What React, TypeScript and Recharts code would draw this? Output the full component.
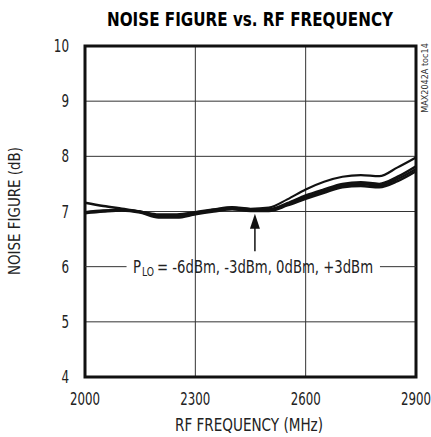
import React from "react";
import { LineChart, Line, XAxis, YAxis, CartesianGrid, ReferenceLine, ReferenceArea } from "recharts";

const freq = [2000, 2050, 2100, 2150, 2200, 2250, 2300, 2350, 2400, 2450, 2500, 2550, 2600, 2650, 2700, 2750, 2800, 2850, 2900];
const nfM6 = [7.16, 7.1, 7.05, 7.0, 6.93, 6.92, 6.97, 7.03, 7.07, 7.04, 7.04, 7.15, 7.29, 7.4, 7.5, 7.53, 7.5, 7.63, 7.82];
const nfM3 = [6.98, 7.01, 7.03, 6.99, 6.91, 6.91, 6.96, 7.02, 7.05, 7.02, 7.03, 7.13, 7.26, 7.37, 7.47, 7.5, 7.47, 7.59, 7.77];
const nf0 = [6.97, 7.0, 7.02, 6.98, 6.89, 6.89, 6.95, 7.0, 7.04, 7.01, 7.01, 7.11, 7.23, 7.34, 7.44, 7.46, 7.44, 7.55, 7.73];
const nfP3 = [6.99, 7.02, 7.03, 7.0, 6.95, 6.95, 6.99, 7.04, 7.08, 7.05, 7.07, 7.22, 7.4, 7.54, 7.63, 7.66, 7.64, 7.8, 7.98];

const xTicks = [2000, 2300, 2600, 2900];
const yTicks = [4, 5, 6, 7, 8, 9, 10];
const gridY = [5, 7, 8, 9];
const gridX = [2300, 2600];

const title = "NOISE FIGURE vs. RF FREQUENCY";
const xLabel = "RF FREQUENCY (MHz)";
const yLabel = "NOISE FIGURE (dB)";
const sideNote = "MAX2042A toc14";
const annoP = "P";
const annoSub = "LO";
const annotation = "= -6dBm, -3dBm, 0dBm, +3dBm";

const data = freq.map((f, i) => ({ f, a: nfM6[i], b: nfM3[i], c: nf0[i], d: nfP3[i] }));

const FONT = "'Liberation Sans Narrow', 'Arial Narrow', 'DejaVu Sans Condensed', 'Liberation Sans', sans-serif";

const XTick = (props: any) => {
  const { x, y, payload } = props;
  const s = String(payload.value);
  return (
    <text x={x} y={y + 20} textAnchor="middle" fontFamily={FONT} fontSize={17} fill="#222" textLength={s.length * 7.5} lengthAdjust="spacingAndGlyphs">
      {s}
    </text>
  );
};
const YTick = (props: any) => {
  const { x, y, payload } = props;
  const s = String(payload.value);
  return (
    <text x={x - 8} y={y + 6} textAnchor="end" fontFamily={FONT} fontSize={17} fill="#222" textLength={s.length * 7.6} lengthAdjust="spacingAndGlyphs">
      {s}
    </text>
  );
};

const Arrow = (props: any) => {
  const { x1, y1, y2 } = props;
  const top = Math.min(y1, y2);
  const bot = Math.max(y1, y2);
  return (
    <g>
      <line x1={x1} y1={bot} x2={x1} y2={top + 14} stroke="#111" strokeWidth={1.5} />
      <polygon points={`${x1},${top} ${x1 - 5},${top + 15} ${x1 + 5},${top + 15}`} fill="#111" />
    </g>
  );
};

const AnnoLabel = (props: any) => {
  const { viewBox } = props;
  const cx = viewBox.x + (viewBox.width || 0) / 2;
  const cy = viewBox.y;
  const start = cx - 120;
  return (
    <g>
      <text x={start} y={cy + 6} fontFamily={FONT} fontSize={17} fill="#222" textLength={8} lengthAdjust="spacingAndGlyphs">
        {annoP}
      </text>
      <text x={start + 9} y={cy + 9} fontFamily={FONT} fontSize={12} fill="#222" textLength={12} lengthAdjust="spacingAndGlyphs">
        {annoSub}
      </text>
      <text x={start + 24} y={cy + 6} fontFamily={FONT} fontSize={17} fill="#222" textLength={216} lengthAdjust="spacingAndGlyphs">
        {annotation}
      </text>
    </g>
  );
};

export default function App() {
  return (
    <div style={{ position: "absolute", left: 0, top: 0, width: 431, height: 437, background: "#fff" }}>
      <LineChart width={431} height={437} data={data} margin={{ top: 46, right: 15, bottom: 30, left: 0 }}>
        <CartesianGrid horizontalValues={gridY} verticalValues={gridX} stroke="#333" strokeWidth={1} />
        <XAxis dataKey="f" type="number" domain={[2000, 2900]} ticks={xTicks} height={30} axisLine={false} tickLine={false} tick={<XTick />} interval={0} />
        <YAxis type="number" domain={[4, 10]} ticks={yTicks} width={85} axisLine={false} tickLine={false} tick={<YTick />} interval={0} />
        <ReferenceLine segment={[{ x: 2000, y: 6 }, { x: 2113, y: 6 }]} stroke="#333" strokeWidth={1} />
        <ReferenceLine segment={[{ x: 2802, y: 6 }, { x: 2900, y: 6 }]} stroke="#333" strokeWidth={1} />
        <ReferenceLine segment={[{ x: 2457, y: 6 }, { x: 2457, y: 6 }]} stroke="none" label={<AnnoLabel />} />
        <ReferenceLine segment={[{ x: 2462, y: 6.28 }, { x: 2462, y: 6.96 }]} shape={<Arrow />} />
        <Line type="monotone" dataKey="d" stroke="#111" strokeWidth={2.2} dot={false} isAnimationActive={false} />
        <Line type="monotone" dataKey="a" stroke="#111" strokeWidth={2.5} dot={false} isAnimationActive={false} />
        <Line type="monotone" dataKey="b" stroke="#111" strokeWidth={2.5} dot={false} isAnimationActive={false} />
        <Line type="monotone" dataKey="c" stroke="#111" strokeWidth={2.5} dot={false} isAnimationActive={false} />
        <ReferenceArea x1={2000} x2={2900} y1={4} y2={10} fill="none" stroke="#111" strokeWidth={3} ifOverflow="visible" />
      </LineChart>
      <svg width={431} height={437} style={{ position: "absolute", left: 0, top: 0, pointerEvents: "none" }}>
        <text x={250} y={26} textAnchor="middle" fontFamily="'DejaVu Sans Condensed', 'Liberation Sans Narrow', sans-serif" fontWeight="bold" fontSize={20} fill="#000" textLength={286} lengthAdjust="spacingAndGlyphs">
          {title}
        </text>
        <text x={249} y={431} textAnchor="middle" fontFamily={FONT} fontSize={17} fill="#222" textLength={148} lengthAdjust="spacingAndGlyphs">
          {xLabel}
        </text>
        <text x={20} y={211} textAnchor="middle" fontFamily={FONT} fontSize={16} fill="#222" transform="rotate(-90 20 211)" textLength={128} lengthAdjust="spacingAndGlyphs">
          {yLabel}
        </text>
        <text x={428} y={78} textAnchor="middle" fontFamily={FONT} fontSize={9} fill="#333" transform="rotate(-90 428 78)">
          {sideNote}
        </text>
      </svg>
    </div>
  );
}
